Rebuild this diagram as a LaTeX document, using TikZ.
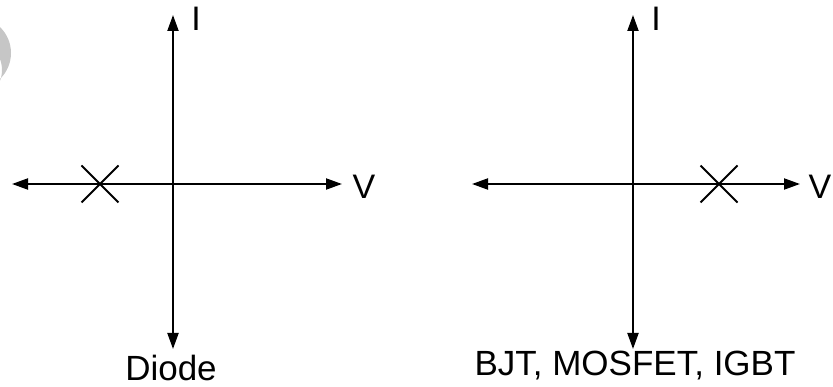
\documentclass[tikz,border=0pt]{standalone}
\usepackage{fontspec}
\setmainfont{Liberation Sans}
\usetikzlibrary{arrows.meta,shapes.misc}
\begin{document}
\begin{tikzpicture}[x=1pt,y=-1pt,
  axis/.style={line width=2pt,{Triangle[length=16pt,width=11pt]}-{Triangle[length=16pt,width=11pt]}},
  axlabel/.style={inner sep=0pt,font=\fontsize{34}{40}\selectfont},
  caption/.style={inner sep=0pt,anchor=base,font=\fontsize{35}{40}\selectfont},
  mark x/.style={cross out,draw,line width=2pt,minimum size=35pt,inner sep=0pt}]
\useasboundingbox (0,0) rectangle (833,387);
% faint grey crescent in the upper left corner
\fill[gray!45,even odd rule] (-25,53) circle[radius=36] (-28,70) circle[radius=30];
% left pair of axes
\coordinate (lt) at (173,15);
\coordinate (lb) at (173,349);
\coordinate (ll) at (12,184);
\coordinate (lr) at (342,184);
\draw[axis] (lb) -- (lt);
\draw[axis] (ll) -- (lr);
\node[axlabel] (li) at (196,19) {I};
\node[axlabel] (lv) at (364,187) {V};
\node[mark x] (lx) at (100,184) {};
\node[caption] (diode) at (171,381) {Diode};
% right pair of axes
\coordinate (rt) at (633,15);
\coordinate (rb) at (633,349);
\coordinate (rl) at (472,184);
\coordinate (rr) at (800,184);
\draw[axis] (rb) -- (rt);
\draw[axis] (rl) -- (rr);
\node[axlabel] (ri) at (656,19) {I};
\node[axlabel] (rv) at (820,187) {V};
\node[mark x] (rx) at (719,184) {};
\node[caption] (sw) at (635,376) {BJT, MOSFET, IGBT};
\end{tikzpicture}
\end{document}
